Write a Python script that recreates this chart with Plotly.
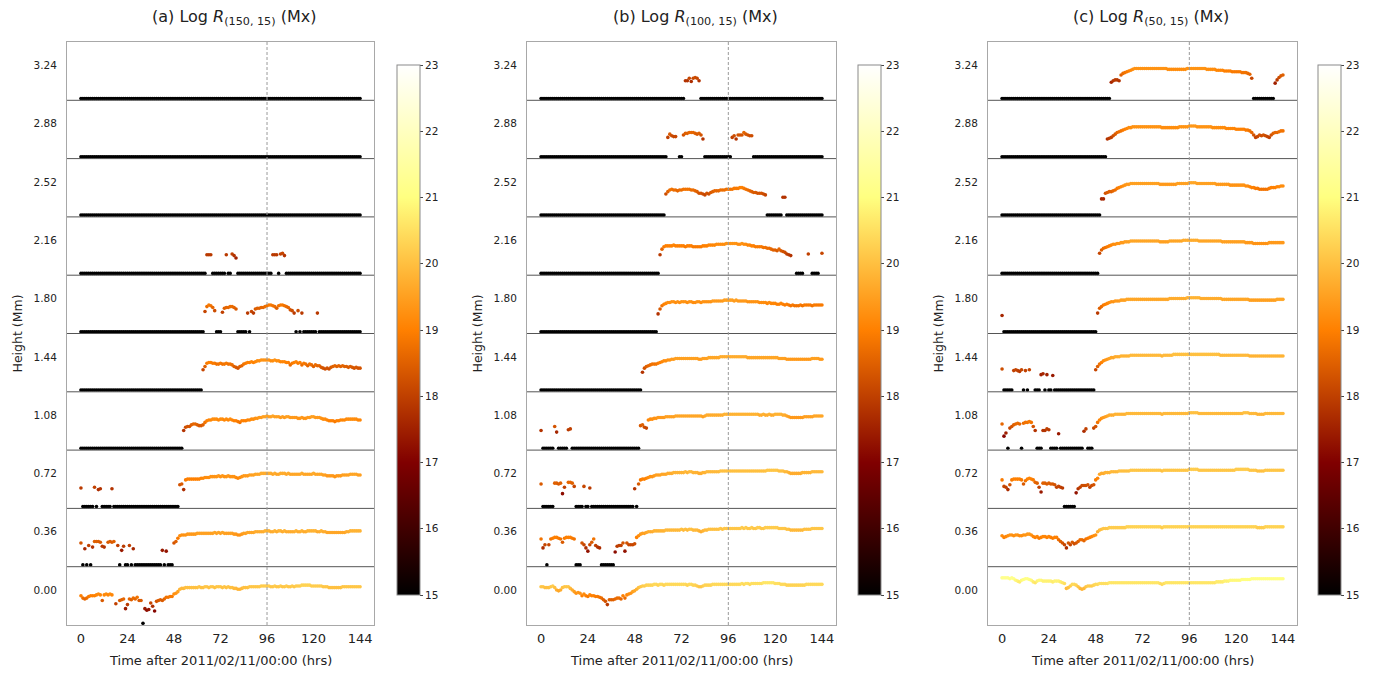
import plotly.graph_objects as go

B = 15.0   # log R at the floor of the colour scale (no measurable flux) -> black marks at band bottom
N = None   # no sample

HOURS = list(range(0, 145))
HEIGHTS = [0.00, 0.36, 0.72, 1.08, 1.44, 1.80, 2.16, 2.52, 2.88, 3.24]
HEIGHT_LABELS = ["0.00", "0.36", "0.72", "1.08", "1.44", "1.80", "2.16", "2.52", "2.88", "3.24"]
TIME_TICKS = [0, 24, 48, 72, 96, 120, 144]
CBAR_TICKS = [15, 16, 17, 18, 19, 20, 21, 22, 23]
TITLES = [
    "(a) Log <i>R</i><sub>(150, 15)</sub> (Mx)",
    "(b) Log <i>R</i><sub>(100, 15)</sub> (Mx)",
    "(c) Log <i>R</i><sub>(50, 15)</sub> (Mx)",
]
XLABEL = "Time after 2011/02/11/00:00 (hrs)"
YLABEL = "Height (Mm)"
REF_TIME = 96

# ---------------- panel (a): Log R(150,15) ----------------
a324 = [
    B, B, B, B, B, B, B, B, B, B, B, B, B, B, B, B, B, B, B, B, B, B, B, B,
    B, B, B, B, B, B, B, B, B, B, B, B, B, B, B, B, B, B, B, B, B, B, B, B,
    B, B, B, B, B, B, B, B, B, B, B, B, B, B, B, B, B, B, B, B, B, B, B, B,
    B, B, B, B, B, B, B, B, B, B, B, B, B, B, B, B, B, B, B, B, B, B, B, B,
    B, B, B, B, B, B, B, B, B, B, B, B, B, B, B, B, B, B, B, B, B, B, B, B,
    B, B, B, B, B, B, B, B, B, B, B, B, B, B, B, B, B, B, B, B, B, B, B, B, B,
]
a288 = [
    B, B, B, B, B, B, B, B, B, B, B, B, B, B, B, B, B, B, B, B, B, B, B, B,
    B, B, B, B, B, B, B, B, B, B, B, B, B, B, B, B, B, B, B, B, B, B, B, B,
    B, B, B, B, B, B, B, B, B, B, B, B, B, B, B, B, B, B, B, B, B, B, B, B,
    B, B, B, B, B, B, B, B, B, B, B, B, B, B, B, B, B, B, B, B, B, B, B, B,
    B, B, B, B, B, B, B, B, B, B, B, B, B, B, B, B, B, B, B, B, B, B, B, B,
    B, B, B, B, B, B, B, B, B, B, B, B, B, B, B, B, B, B, B, B, B, B, B, B, B,
]
a252 = [
    B, B, B, B, B, B, B, B, B, B, B, B, B, B, B, B, B, B, B, B, B, B, B, B,
    B, B, B, B, B, B, B, B, B, B, B, B, B, B, B, B, B, B, B, B, B, B, B, B,
    B, B, B, B, B, B, B, B, B, B, B, B, B, B, B, B, B, B, B, B, B, B, B, B,
    B, B, B, B, B, B, B, B, B, B, B, B, B, B, B, B, B, B, B, B, B, B, B, B,
    B, B, B, B, B, B, B, B, B, B, B, B, B, B, B, B, B, B, B, B, B, B, B, B,
    B, B, B, B, B, B, B, B, B, B, B, B, B, B, B, B, B, B, B, B, B, B, B, B, B,
]
a216 = [
    B, B, B, B, B, B, B, B, B, B, B, B, B, B, B, B, B, B, B, B, B, B, B, B,
    B, B, B, B, B, B, B, B, B, B, B, B, B, B, B, B, B, B, B, B, B, B, B, B,
    B, B, B, B, B, B, B, B, B, B, B, B, B, B, B, B, B, 17.9, 17.9, 17.9, B, B, B, B,
    B, B, B, 17.9, B, B, 18.0, 17.8, 17.5, B, B, B, B, B, B, B, B, B, B, B, B, B, B, B,
    B, B, B, 17.9, 17.9, 17.9, B, 18.0, 18.1, 17.8, B, B, B, B, B, B, B, B, B, B, B, B, B, B,
    B, B, B, B, B, B, B, B, B, B, B, B, B, B, B, B, B, B, B, B, B, B, B, B, B,
]
a180 = [
    B, B, B, B, B, B, B, B, B, B, B, B, B, B, B, B, B, B, B, B, B, B, B, B,
    B, B, B, B, B, B, B, B, B, B, B, B, B, B, B, B, B, B, B, B, B, B, B, B,
    B, B, B, B, B, B, B, B, B, B, B, B, B, B, B, B, 18.1, 18.7, 18.9, 18.8, 18.6, 18.2, B, B,
    B, 18.0, 18.5, 18.6, 18.6, 18.7, 18.7, 18.6, 18.4, B, B, B, B, B, 17.9, B, 18.1, 17.9, 18.4, 18.5, 18.5, 18.6, 18.6, 18.7,
    18.8, 18.9, 18.9, 18.8, 18.7, 18.5, 18.8, 18.9, 18.9, 18.8, 18.7, 18.6, 18.3, 18.2, 17.9, B, 18.2, B, 17.9, B, B, B, B, B,
    B, B, 17.9, B, B, B, B, B, B, B, B, B, B, B, B, B, B, B, B, B, B, B, B, B, B,
]
a144 = [
    B, B, B, B, B, B, B, B, B, B, B, B, B, B, B, B, B, B, B, B, B, B, B, B,
    B, B, B, B, B, B, B, B, B, B, B, B, B, B, B, B, B, B, B, B, B, B, B, B,
    B, B, B, B, B, B, B, B, B, B, B, B, B, B, B, 18.1, 18.5, 18.9, 19.0, 19.0, 18.9, 18.9, 18.8, 18.8,
    18.9, 18.8, 18.8, 18.9, 18.8, 18.8, 18.7, 18.5, 18.4, 18.3, 18.5, 18.6, 18.8, 18.9, 19.0, 19.0, 19.1, 19.0, 19.1, 19.2, 19.2, 19.3, 19.3, 19.3,
    19.3, 19.3, 19.2, 19.2, 19.3, 19.2, 19.2, 19.1, 19.1, 19.1, 19.0, 19.0, 18.7, 18.9, 19.0, 19.1, 18.9, 19.0, 18.7, 18.9, 18.8, 18.6, 18.8, 18.7,
    18.5, 18.7, 18.6, 18.6, 18.4, 18.3, 18.2, 18.3, 18.2, 18.4, 18.5, 18.6, 18.5, 18.6, 18.5, 18.6, 18.5, 18.5, 18.4, 18.5, 18.4, 18.3, 18.4, 18.3, 18.3,
]
a108 = [
    B, B, B, B, B, B, B, B, B, B, B, B, B, B, B, B, B, B, B, B, B, B, B, B,
    B, B, B, B, B, B, B, B, B, B, B, B, B, B, B, B, B, B, B, B, B, B, B, B,
    B, B, B, B, B, 17.8, 18.2, 18.3, 18.3, 18.5, 18.6, 18.6, 18.5, 18.4, 18.4, 18.5, 18.8, 19.0, 19.1, 19.1, 19.2, 19.2, 19.2, 19.1,
    19.2, 19.2, 19.1, 19.2, 19.1, 19.2, 19.1, 19.0, 19.0, 18.9, 18.8, 19.0, 19.0, 19.0, 19.1, 19.1, 19.2, 19.2, 19.3, 19.3, 19.4, 19.4, 19.5, 19.5,
    19.6, 19.5, 19.5, 19.6, 19.5, 19.5, 19.5, 19.4, 19.5, 19.4, 19.5, 19.5, 19.4, 19.4, 19.4, 19.4, 19.3, 19.3, 19.4, 19.3, 19.3, 19.4, 19.4, 19.5,
    19.5, 19.4, 19.4, 19.4, 19.3, 19.2, 19.2, 19.1, 19.0, 19.0, 19.0, 18.9, 19.0, 19.0, 19.1, 19.1, 19.1, 19.2, 19.2, 19.2, 19.2, 19.2, 19.2, 19.1, 19.1,
]
a072 = [
    17.9, B, B, B, B, B, B, 18.0, B, 17.7, 17.8, B, B, B, B, B, 17.8, B, B, B, B, B, B, B,
    B, B, B, B, B, B, B, B, B, B, B, B, B, B, B, B, B, B, B, B, B, B, B, B,
    B, B, B, 18.3, 18.4, 17.7, 18.9, 19.0, 19.0, 19.0, 19.0, 19.0, 19.0, 19.0, 19.1, 19.1, 19.2, 19.2, 19.2, 19.3, 19.3, 19.3, 19.3, 19.4,
    19.3, 19.4, 19.3, 19.3, 19.4, 19.3, 19.3, 19.3, 19.2, 19.1, 19.2, 19.3, 19.4, 19.4, 19.4, 19.5, 19.5, 19.5, 19.6, 19.6, 19.6, 19.7, 19.7, 19.7,
    19.7, 19.7, 19.7, 19.6, 19.7, 19.6, 19.6, 19.7, 19.7, 19.7, 19.6, 19.7, 19.6, 19.6, 19.6, 19.6, 19.6, 19.6, 19.7, 19.6, 19.6, 19.6, 19.6, 19.6,
    19.7, 19.6, 19.6, 19.6, 19.6, 19.5, 19.5, 19.4, 19.4, 19.4, 19.4, 19.3, 19.4, 19.4, 19.4, 19.5, 19.5, 19.5, 19.5, 19.6, 19.6, 19.6, 19.6, 19.5, 19.5,
]
a036 = [
    18.3, B, 17.6, B, 18.0, B, 17.8, 18.5, 18.5, 18.5, 18.4, 17.9, 17.8, N, 18.4, 18.5, 18.4, 18.5, N, 18.0, B, 17.4, 17.9, B,
    B, 18.0, B, 17.6, B, B, B, B, B, B, B, B, B, B, B, B, B, B, 17.4, B, 17.3, B, B, B,
    18.3, 18.5, 18.9, 19.2, 19.3, 19.3, 19.3, 19.4, 19.4, 19.4, 19.4, 19.4, 19.5, 19.5, 19.5, 19.5, 19.5, 19.5, 19.5, 19.5, 19.5, 19.6, 19.5, 19.6,
    19.5, 19.6, 19.5, 19.5, 19.5, 19.5, 19.5, 19.4, 19.4, 19.3, 19.3, 19.4, 19.5, 19.5, 19.6, 19.6, 19.6, 19.6, 19.7, 19.7, 19.7, 19.7, 19.7, 19.8,
    19.8, 19.8, 19.7, 19.7, 19.8, 19.7, 19.8, 19.8, 19.7, 19.8, 19.7, 19.7, 19.7, 19.7, 19.7, 19.8, 19.7, 19.7, 19.8, 19.7, 19.7, 19.8, 19.8, 19.8,
    19.8, 19.8, 19.7, 19.7, 19.8, 19.7, 19.7, 19.6, 19.6, 19.6, 19.6, 19.6, 19.6, 19.6, 19.6, 19.6, 19.6, 19.7, 19.7, 19.8, 19.8, 19.8, 19.8, 19.8, 19.8,
]
a000 = [
    19.0, 18.7, 18.6, 18.7, 18.9, 19.0, 19.0, 19.0, 19.1, 19.2, 19.1, 18.4, 19.1, 19.2, 19.1, 19.2, 19.1, N, 18.0, N, 18.4, 18.5, 18.6, 17.4,
    17.9, 18.6, 18.5, 18.7, 18.6, 18.8, 18.4, 18.4, B, 17.4, 17.2, 17.3, 18.1, 17.7, 17.1, 18.3, 18.4, 18.5, 18.4, 18.6, 18.8, 18.8, 18.9, 18.9,
    19.2, 19.3, 19.5, 19.8, 19.9, 19.9, 20.0, 20.0, 20.0, 20.0, 20.0, 20.0, 20.0, 20.1, 20.0, 20.0, 20.1, 20.1, 20.0, 20.1, 20.1, 20.0, 20.1, 20.1,
    20.1, 20.0, 20.1, 20.0, 20.1, 20.0, 20.0, 19.9, 19.9, 19.8, 19.8, 19.9, 20.0, 20.0, 20.0, 20.1, 20.1, 20.1, 20.1, 20.1, 20.1, 20.2, 20.2, 20.2,
    20.2, 20.2, 20.1, 20.1, 20.2, 20.1, 20.1, 20.2, 20.1, 20.1, 20.2, 20.1, 20.1, 20.2, 20.1, 20.2, 20.2, 20.2, 20.3, 20.3, 20.3, 20.3, 20.3, 20.2,
    20.2, 20.2, 20.2, 20.2, 20.2, 20.1, 20.1, 20.1, 20.0, 20.0, 20.0, 20.0, 20.0, 20.0, 20.0, 20.1, 20.1, 20.1, 20.1, 20.1, 20.1, 20.1, 20.1, 20.1, 20.1,
]

# ---------------- panel (b): Log R(100,15) ----------------
b324 = [
    B, B, B, B, B, B, B, B, B, B, B, B, B, B, B, B, B, B, B, B, B, B, B, B,
    B, B, B, B, B, B, B, B, B, B, B, B, B, B, B, B, B, B, B, B, B, B, B, B,
    B, B, B, B, B, B, B, B, B, B, B, B, B, B, B, B, B, B, B, B, B, B, B, B,
    B, B, 17.8, 17.8, 18.1, 17.7, 18.1, 18.2, 18.1, 17.8, B, B, B, B, B, B, B, B, B, B, B, B, B, B,
    B, B, B, B, B, B, B, B, B, B, B, B, B, B, B, B, B, B, B, B, B, B, B, B,
    B, B, B, B, B, B, B, B, B, B, B, B, B, B, B, B, B, B, B, B, B, B, B, B, B,
]
b288 = [
    B, B, B, B, B, B, B, B, B, B, B, B, B, B, B, B, B, B, B, B, B, B, B, B,
    B, B, B, B, B, B, B, B, B, B, B, B, B, B, B, B, B, B, B, B, B, B, B, B,
    B, B, B, B, B, B, B, B, B, B, B, B, B, B, B, B, B, 18.0, 18.4, 18.2, 18.1, 18.1, N, B,
    B, 18.3, 18.5, 18.5, 18.6, 18.6, 18.6, 18.5, 18.4, 18.5, 18.3, 17.8, B, B, B, B, B, B, B, B, B, B, B, B,
    B, B, 18.0, 18.2, 17.8, 18.3, 18.3, 18.3, 18.6, 18.4, 18.3, 18.2, 18.2, B, B, B, B, B, B, B, B, B, B, B,
    B, B, B, B, B, B, B, B, B, B, B, B, B, B, B, B, B, B, B, B, B, B, B, B, B,
]
b252 = [
    B, B, B, B, B, B, B, B, B, B, B, B, B, B, B, B, B, B, B, B, B, B, B, B,
    B, B, B, B, B, B, B, B, B, B, B, B, B, B, B, B, B, B, B, B, B, B, B, B,
    B, B, B, B, B, B, B, B, B, B, B, B, B, B, B, B, 18.2, 18.5, 18.7, 18.8, 18.7, 18.7, 18.6, 18.7,
    18.7, 18.8, 18.8, 18.8, 18.8, 18.7, 18.7, 18.6, 18.5, 18.3, 18.3, 18.2, 18.1, 18.3, 18.2, 18.4, 18.5, 18.6, 18.6, 18.6, 18.7, 18.7, 18.7, 18.8,
    18.8, 18.8, 18.8, 18.9, 18.9, 18.9, 19.0, 19.0, 18.9, 18.8, 18.7, 18.6, 18.5, 18.4, 18.4, 18.3, 18.3, 18.3, 18.2, 18.1, B, B, B, B,
    B, B, B, B, 17.8, 17.8, B, B, B, B, B, B, B, B, B, B, B, B, B, B, B, B, B, B, B,
]
b216 = [
    B, B, B, B, B, B, B, B, B, B, B, B, B, B, B, B, B, B, B, B, B, B, B, B,
    B, B, B, B, B, B, B, B, B, B, B, B, B, B, B, B, B, B, B, B, B, B, B, B,
    B, B, B, B, B, B, B, B, B, B, B, B, B, 17.9, 18.6, 18.9, 19.0, 19.0, 19.0, 19.0, 19.1, 19.0, 19.0, 19.0,
    19.0, 19.0, 18.9, 19.0, 19.0, 19.0, 18.9, 18.9, 18.9, 18.9, 18.9, 19.0, 19.0, 19.0, 19.1, 19.1, 19.1, 19.1, 19.2, 19.2, 19.2, 19.2, 19.2, 19.3,
    19.3, 19.3, 19.3, 19.3, 19.3, 19.2, 19.2, 19.3, 19.2, 19.2, 19.1, 19.1, 19.0, 19.0, 18.9, 18.9, 18.9, 18.9, 18.8, 18.8, 18.7, 18.7, 18.6, 18.5,
    18.5, 18.4, 18.6, 18.4, 18.3, 18.2, 18.0, 17.9, 17.8, N, N, B, B, B, B, N, N, 18.0, N, B, B, B, B, N, 18.1,
]
b180 = [
    B, B, B, B, B, B, B, B, B, B, B, B, B, B, B, B, B, B, B, B, B, B, B, B,
    B, B, B, B, B, B, B, B, B, B, B, B, B, B, B, B, B, B, B, B, B, B, B, B,
    B, B, B, B, B, B, B, B, B, B, B, B, 17.8, 18.4, 18.8, 19.0, 19.1, 19.2, 19.2, 19.3, 19.3, 19.2, 19.3, 19.2,
    19.3, 19.3, 19.3, 19.2, 19.3, 19.3, 19.2, 19.2, 19.3, 19.3, 19.2, 19.3, 19.3, 19.3, 19.3, 19.3, 19.4, 19.4, 19.4, 19.4, 19.4, 19.4, 19.5, 19.5,
    19.5, 19.5, 19.5, 19.4, 19.5, 19.4, 19.4, 19.4, 19.4, 19.4, 19.3, 19.3, 19.3, 19.3, 19.3, 19.3, 19.2, 19.2, 19.2, 19.2, 19.1, 19.2, 19.1, 19.1,
    19.1, 19.0, 19.0, 19.1, 19.0, 18.9, 19.0, 18.9, 18.8, 18.9, 18.8, 18.8, 18.8, 18.9, 18.8, 18.9, 18.9, 18.9, 18.9, 18.8, 18.9, 18.9, 18.9, 18.9, 18.9,
]
b144 = [
    B, B, B, B, B, B, B, B, B, B, B, B, B, B, B, B, B, B, B, B, B, B, B, B,
    B, B, B, B, B, B, B, B, B, B, B, B, B, B, B, B, B, B, B, B, B, B, B, B,
    B, B, B, B, 17.8, 18.3, 18.5, 18.6, 18.7, 18.8, 18.8, 18.8, 18.9, 19.0, 19.1, 19.2, 19.2, 19.3, 19.3, 19.4, 19.4, 19.5, 19.5, 19.5,
    19.5, 19.5, 19.5, 19.5, 19.5, 19.5, 19.5, 19.5, 19.5, 19.4, 19.4, 19.5, 19.5, 19.5, 19.6, 19.6, 19.6, 19.6, 19.6, 19.6, 19.7, 19.7, 19.7, 19.7,
    19.7, 19.7, 19.7, 19.7, 19.7, 19.7, 19.7, 19.7, 19.7, 19.7, 19.6, 19.6, 19.6, 19.6, 19.6, 19.6, 19.6, 19.6, 19.6, 19.6, 19.6, 19.6, 19.6, 19.6,
    19.6, 19.6, 19.5, 19.5, 19.5, 19.5, 19.4, 19.4, 19.4, 19.4, 19.4, 19.4, 19.4, 19.4, 19.4, 19.4, 19.4, 19.4, 19.4, 19.5, 19.5, 19.5, 19.5, 19.4, 19.4,
]
b108 = [
    17.8, B, B, B, B, B, B, 18.3, 17.6, B, B, B, B, B, 17.9, 18.0, B, B, B, B, B, B, B, B,
    B, B, B, B, B, B, B, B, B, B, B, B, B, B, B, B, B, B, B, B, B, B, B, B,
    B, B, B, 18.4, 18.5, 18.2, 18.1, 19.1, 19.2, 19.2, 19.3, 19.3, 19.4, 19.4, 19.4, 19.4, 19.5, 19.5, 19.5, 19.5, 19.5, 19.6, 19.6, 19.6,
    19.6, 19.6, 19.6, 19.6, 19.6, 19.6, 19.6, 19.6, 19.6, 19.6, 19.6, 19.5, 19.6, 19.7, 19.7, 19.7, 19.7, 19.7, 19.7, 19.7, 19.7, 19.7, 19.8, 19.8,
    19.8, 19.8, 19.8, 19.8, 19.8, 19.8, 19.8, 19.8, 19.8, 19.8, 19.8, 19.8, 19.8, 19.8, 19.8, 19.8, 19.7, 19.7, 19.8, 19.7, 19.7, 19.8, 19.7, 19.7,
    19.8, 19.8, 19.8, 19.8, 19.7, 19.7, 19.6, 19.5, 19.4, 19.4, 19.4, 19.4, 19.4, 19.4, 19.4, 19.5, 19.5, 19.5, 19.5, 19.5, 19.6, 19.6, 19.6, 19.6, 19.6,
]
b072 = [
    18.4, B, B, B, B, B, B, 18.5, 18.5, 18.4, 18.5, 17.2, 18.0, N, 18.6, 18.6, 18.5, 18.1, B, B, B, B, 18.1, B,
    B, 17.9, B, B, B, B, B, B, B, B, B, B, B, B, B, B, B, B, B, B, B, B, B, B,
    17.8, B, 18.4, 18.9, 19.0, 19.0, 19.1, 19.2, 19.3, 19.3, 19.4, 19.5, 19.5, 19.5, 19.6, 19.6, 19.6, 19.7, 19.7, 19.7, 19.8, 19.8, 19.8, 19.8,
    19.8, 19.8, 19.9, 19.8, 19.9, 19.9, 19.8, 19.8, 19.8, 19.7, 19.7, 19.8, 19.8, 19.9, 19.9, 19.9, 19.9, 19.9, 19.9, 19.9, 20.0, 20.0, 20.0, 20.0,
    20.0, 20.0, 20.0, 20.0, 20.0, 20.0, 20.0, 20.0, 20.0, 20.0, 20.0, 20.0, 20.0, 20.0, 20.0, 20.0, 20.0, 20.0, 20.0, 20.0, 20.1, 20.1, 20.1, 20.1,
    20.1, 20.1, 20.0, 20.0, 20.0, 19.9, 19.9, 19.8, 19.7, 19.7, 19.7, 19.7, 19.7, 19.7, 19.8, 19.8, 19.8, 19.8, 19.8, 19.9, 19.9, 19.9, 19.9, 19.9, 19.9,
]
b036 = [
    18.8, 17.7, 18.1, B, 18.1, 18.8, 18.9, 19.0, 19.0, 18.9, 18.8, 18.4, 18.9, 19.0, 19.0, 19.0, 18.9, 18.8, B, B, B, 18.3, 18.1, 17.7,
    17.3, 18.1, 18.4, 18.8, 18.0, 17.8, 17.7, B, B, B, B, B, B, B, 17.2, 17.9, 18.0, 18.0, 18.3, 17.3, 18.3, 18.1, 18.1, 18.1,
    18.2, 19.0, 19.2, 19.4, 19.5, 19.5, 19.6, 19.7, 19.7, 19.7, 19.8, 19.8, 19.8, 19.8, 19.8, 19.8, 19.9, 19.9, 19.9, 19.9, 19.9, 19.9, 19.9, 19.9,
    20.0, 19.9, 20.0, 19.9, 20.0, 20.0, 19.9, 19.9, 19.9, 19.8, 19.7, 19.8, 19.9, 19.9, 20.0, 20.0, 20.0, 20.0, 20.0, 20.0, 20.1, 20.0, 20.1, 20.1,
    20.1, 20.1, 20.1, 20.1, 20.1, 20.1, 20.1, 20.2, 20.1, 20.2, 20.1, 20.1, 20.2, 20.1, 20.1, 20.2, 20.2, 20.1, 20.1, 20.2, 20.2, 20.2, 20.2, 20.2,
    20.2, 20.2, 20.1, 20.1, 20.1, 20.1, 20.0, 20.0, 19.9, 19.9, 19.9, 19.9, 19.9, 19.9, 19.9, 20.0, 20.0, 20.0, 20.0, 20.1, 20.1, 20.1, 20.1, 20.1, 20.1,
]
b000 = [
    20.1, 20.1, 20.0, 20.0, 20.0, 20.1, 20.2, 20.0, 19.7, 19.6, 19.7, 20.0, 20.1, 20.1, 20.1, 19.9, 19.7, 19.5, 19.3, 19.4, 19.3, 19.0, 19.2, 19.0,
    18.9, 19.1, 19.0, 19.0, 18.9, 18.9, 18.8, 18.7, 18.5, 18.3, 17.9, 18.5, 18.5, 18.5, 18.6, 18.7, 18.7, 18.6, 19.0, 18.7, 19.1, 19.2, 19.3, 19.5,
    19.6, 19.8, 20.0, 20.1, 20.2, 20.2, 20.3, 20.3, 20.3, 20.3, 20.4, 20.4, 20.3, 20.4, 20.4, 20.3, 20.4, 20.4, 20.4, 20.4, 20.4, 20.4, 20.4, 20.4,
    20.4, 20.4, 20.4, 20.3, 20.4, 20.4, 20.3, 20.3, 20.2, 20.1, 20.1, 20.2, 20.3, 20.3, 20.3, 20.3, 20.4, 20.4, 20.4, 20.4, 20.4, 20.4, 20.4, 20.4,
    20.4, 20.4, 20.4, 20.4, 20.4, 20.4, 20.4, 20.5, 20.4, 20.5, 20.5, 20.4, 20.5, 20.5, 20.5, 20.5, 20.5, 20.5, 20.6, 20.6, 20.6, 20.6, 20.6, 20.6,
    20.5, 20.5, 20.5, 20.4, 20.4, 20.4, 20.3, 20.3, 20.3, 20.3, 20.3, 20.3, 20.3, 20.3, 20.3, 20.3, 20.4, 20.4, 20.4, 20.4, 20.4, 20.4, 20.4, 20.4, 20.4,
]

# ---------------- panel (c): Log R(50,15) ----------------
c324 = [
    B, B, B, B, B, B, B, B, B, B, B, B, B, B, B, B, B, B, B, B, B, B, B, B,
    B, B, B, B, B, B, B, B, B, B, B, B, B, B, B, B, B, B, B, B, B, B, B, B,
    B, B, B, B, B, B, B, B, 17.6, 17.8, 17.9, 17.9, 17.8, 18.5, 18.7, 18.8, 18.9, 19.0, 19.1, 19.2, 19.3, 19.3, 19.3, 19.3,
    19.3, 19.3, 19.3, 19.3, 19.3, 19.3, 19.3, 19.3, 19.3, 19.3, 19.3, 19.3, 19.3, 19.2, 19.2, 19.2, 19.2, 19.2, 19.2, 19.2, 19.2, 19.2, 19.2, 19.3,
    19.3, 19.3, 19.3, 19.3, 19.3, 19.3, 19.3, 19.3, 19.3, 19.2, 19.2, 19.2, 19.2, 19.2, 19.1, 19.1, 19.1, 19.1, 19.0, 19.0, 19.0, 19.0, 18.9, 18.9,
    18.9, 18.9, 18.9, 18.8, 18.8, 18.8, 18.7, 18.6, 18.1, B, B, B, B, B, B, B, B, B, B, B, 17.5, 17.9, 18.2, 18.4, 18.5,
]
c288 = [
    B, B, B, B, B, B, B, B, B, B, B, B, B, B, B, B, B, B, B, B, B, B, B, B,
    B, B, B, B, B, B, B, B, B, B, B, B, B, B, B, B, B, B, B, B, B, B, B, B,
    B, B, B, B, B, B, 17.8, 17.9, 18.0, 18.2, 18.4, 18.6, 18.7, 18.8, 18.9, 19.0, 19.1, 19.2, 19.2, 19.3, 19.3, 19.3, 19.3, 19.3,
    19.3, 19.3, 19.3, 19.3, 19.3, 19.3, 19.3, 19.3, 19.3, 19.3, 19.2, 19.2, 19.2, 19.2, 19.2, 19.2, 19.2, 19.2, 19.2, 19.3, 19.3, 19.3, 19.3, 19.3,
    19.4, 19.4, 19.4, 19.4, 19.3, 19.3, 19.3, 19.3, 19.3, 19.3, 19.3, 19.3, 19.2, 19.2, 19.2, 19.2, 19.2, 19.2, 19.2, 19.1, 19.1, 19.1, 19.1, 19.1,
    19.0, 19.0, 19.0, 19.0, 19.0, 18.9, 18.9, 18.8, 18.6, 18.3, 18.0, 18.1, 18.3, 18.2, 18.3, 18.2, 18.1, 18.0, 18.3, 18.5, 18.6, 18.6, 18.7, 18.8, 18.8,
]
c252 = [
    B, B, B, B, B, B, B, B, B, B, B, B, B, B, B, B, B, B, B, B, B, B, B, B,
    B, B, B, B, B, B, B, B, B, B, B, B, B, B, B, B, B, B, B, B, B, B, B, B,
    B, B, B, 17.6, 17.6, 18.3, 18.4, 18.5, 18.5, 18.6, 18.7, 18.9, 19.0, 19.1, 19.2, 19.3, 19.4, 19.4, 19.5, 19.5, 19.5, 19.5, 19.5, 19.5,
    19.5, 19.5, 19.5, 19.5, 19.5, 19.5, 19.5, 19.5, 19.5, 19.4, 19.4, 19.4, 19.4, 19.4, 19.4, 19.4, 19.4, 19.4, 19.5, 19.5, 19.5, 19.5, 19.5, 19.5,
    19.6, 19.6, 19.6, 19.6, 19.5, 19.5, 19.5, 19.5, 19.5, 19.5, 19.5, 19.5, 19.5, 19.5, 19.4, 19.4, 19.4, 19.4, 19.4, 19.4, 19.4, 19.3, 19.3, 19.3,
    19.3, 19.3, 19.3, 19.3, 19.3, 19.2, 19.2, 19.1, 19.0, 19.0, 18.9, 18.9, 18.8, 18.8, 18.8, 18.8, 18.8, 18.9, 19.0, 19.0, 19.0, 19.1, 19.1, 19.2, 19.2,
]
c216 = [
    B, B, B, B, B, B, B, B, B, B, B, B, B, B, B, B, B, B, B, B, B, B, B, B,
    B, B, B, B, B, B, B, B, B, B, B, B, B, B, B, B, B, B, B, B, B, B, B, B,
    B, B, 18.1, 18.5, 18.7, 18.8, 18.9, 19.0, 19.1, 19.2, 19.2, 19.3, 19.3, 19.4, 19.4, 19.5, 19.5, 19.5, 19.6, 19.6, 19.6, 19.6, 19.6, 19.6,
    19.6, 19.6, 19.6, 19.6, 19.6, 19.6, 19.6, 19.6, 19.6, 19.5, 19.5, 19.5, 19.5, 19.5, 19.6, 19.6, 19.6, 19.6, 19.6, 19.6, 19.6, 19.7, 19.7, 19.7,
    19.7, 19.7, 19.7, 19.7, 19.7, 19.6, 19.6, 19.6, 19.6, 19.6, 19.6, 19.6, 19.6, 19.6, 19.6, 19.6, 19.6, 19.5, 19.5, 19.5, 19.5, 19.5, 19.5, 19.5,
    19.5, 19.5, 19.5, 19.5, 19.5, 19.4, 19.4, 19.4, 19.4, 19.3, 19.3, 19.3, 19.3, 19.3, 19.3, 19.3, 19.3, 19.4, 19.4, 19.4, 19.4, 19.4, 19.4, 19.4, 19.4,
]
c180 = [
    17.6, B, B, B, B, B, B, B, B, B, B, B, B, B, B, B, B, B, B, B, B, B, B, B,
    B, B, B, B, B, B, B, B, B, B, B, B, B, B, B, B, B, B, B, B, B, B, B, B,
    B, 17.9, 18.5, 18.7, 18.9, 19.0, 19.1, 19.2, 19.3, 19.3, 19.4, 19.4, 19.4, 19.5, 19.5, 19.5, 19.6, 19.6, 19.6, 19.6, 19.6, 19.6, 19.6, 19.6,
    19.6, 19.6, 19.6, 19.6, 19.6, 19.6, 19.6, 19.6, 19.6, 19.6, 19.6, 19.6, 19.6, 19.6, 19.7, 19.7, 19.7, 19.7, 19.7, 19.7, 19.7, 19.7, 19.7, 19.8,
    19.8, 19.8, 19.8, 19.8, 19.8, 19.8, 19.7, 19.7, 19.7, 19.7, 19.7, 19.7, 19.7, 19.7, 19.7, 19.7, 19.7, 19.6, 19.6, 19.6, 19.6, 19.6, 19.6, 19.6,
    19.6, 19.6, 19.6, 19.6, 19.6, 19.6, 19.6, 19.5, 19.5, 19.5, 19.5, 19.5, 19.5, 19.5, 19.5, 19.5, 19.5, 19.5, 19.5, 19.5, 19.5, 19.6, 19.6, 19.6, 19.6,
]
c144 = [
    18.2, B, B, B, B, B, 18.0, 18.1, 18.0, 17.9, 18.1, B, 18.0, B, 18.1, N, N, B, B, B, 17.5, 17.6, B, 17.5,
    B, B, 17.4, B, B, B, B, B, B, B, B, B, B, B, B, B, B, B, B, B, B, B, B, B,
    18.1, 18.5, 18.8, 19.0, 19.2, 19.3, 19.4, 19.5, 19.6, 19.6, 19.7, 19.7, 19.7, 19.8, 19.8, 19.8, 19.8, 19.8, 19.9, 19.9, 19.9, 19.9, 19.9, 19.9,
    19.9, 19.9, 19.9, 19.9, 19.9, 19.9, 19.9, 19.9, 19.9, 19.9, 19.8, 19.9, 19.9, 19.9, 19.9, 19.9, 20.0, 20.0, 20.0, 20.0, 20.0, 20.0, 20.0, 20.0,
    20.0, 20.0, 20.0, 20.0, 20.0, 20.0, 20.0, 20.0, 20.0, 20.0, 20.0, 20.0, 20.0, 20.0, 20.0, 20.0, 19.9, 19.9, 19.9, 19.9, 19.9, 19.9, 19.9, 19.9,
    19.9, 19.9, 19.9, 19.9, 19.9, 19.9, 19.9, 19.8, 19.8, 19.8, 19.8, 19.8, 19.8, 19.8, 19.8, 19.8, 19.8, 19.8, 19.8, 19.8, 19.8, 19.8, 19.8, 19.8, 19.8,
]
c108 = [
    18.6, 17.1, 17.5, B, 18.1, 18.3, 18.5, 18.6, 18.7, 18.6, B, 18.7, 18.8, 18.8, 18.9, 18.8, 18.3, 17.8, B, B, B, 17.8, 17.8, 18.0,
    17.9, B, B, B, B, 17.4, B, B, B, B, B, B, B, B, B, B, B, B, 17.7, 18.0, B, B, B, 18.1,
    18.3, 18.8, 19.1, 19.3, 19.4, 19.5, 19.6, 19.7, 19.7, 19.7, 19.8, 19.8, 19.8, 19.8, 19.8, 19.8, 19.9, 19.9, 19.9, 19.9, 19.9, 19.9, 19.9, 19.9,
    19.9, 19.9, 19.9, 19.9, 19.9, 19.9, 19.9, 19.9, 19.9, 19.9, 19.8, 19.9, 19.9, 19.9, 19.9, 19.9, 19.9, 19.9, 19.9, 19.9, 19.9, 19.9, 19.9, 19.9,
    20.0, 20.0, 20.0, 20.0, 20.0, 19.9, 19.9, 19.9, 19.9, 19.9, 19.9, 19.9, 19.9, 19.9, 19.9, 19.9, 19.9, 19.9, 19.9, 19.9, 19.9, 19.9, 19.9, 19.9,
    19.9, 19.9, 19.9, 19.9, 20.0, 20.0, 20.0, 19.9, 19.9, 19.9, 19.9, 19.8, 19.8, 19.8, 19.8, 19.9, 19.9, 19.9, 19.9, 19.9, 19.9, 19.9, 19.9, 19.9, 19.9,
]
c072 = [
    18.9, 18.1, 18.0, 17.7, 18.3, 18.9, 19.0, 19.0, 19.0, 19.0, 18.9, 18.4, 18.8, 19.0, 19.1, 19.0, 18.9, 18.6, 18.5, 18.0, 17.4, 18.5, 18.5, 18.4,
    18.5, 18.4, 18.4, 18.3, 18.0, 18.1, 18.0, 17.9, B, B, B, B, B, B, 17.3, 17.8, 18.0, 18.2, 18.2, 18.2, 18.3, 18.0, 18.2, 18.3,
    18.9, 19.1, 19.6, 19.7, 19.7, 19.8, 19.8, 19.8, 19.9, 19.9, 19.9, 19.9, 20.0, 20.0, 20.0, 20.0, 20.0, 20.0, 20.1, 20.1, 20.1, 20.1, 20.1, 20.1,
    20.1, 20.1, 20.1, 20.1, 20.1, 20.1, 20.1, 20.1, 20.1, 20.1, 20.0, 20.1, 20.1, 20.1, 20.1, 20.1, 20.1, 20.1, 20.1, 20.1, 20.1, 20.1, 20.1, 20.1,
    20.2, 20.2, 20.2, 20.2, 20.2, 20.1, 20.1, 20.1, 20.1, 20.1, 20.1, 20.1, 20.1, 20.1, 20.1, 20.1, 20.1, 20.1, 20.1, 20.1, 20.1, 20.1, 20.1, 20.1,
    20.2, 20.2, 20.2, 20.2, 20.2, 20.2, 20.2, 20.1, 20.1, 20.1, 20.1, 20.0, 20.0, 20.0, 20.0, 20.1, 20.1, 20.1, 20.1, 20.1, 20.1, 20.1, 20.1, 20.1, 20.1,
]
c036 = [
    19.2, 19.0, 19.1, 19.2, 19.3, 19.3, 19.2, 19.3, 19.3, 19.2, 19.2, 19.3, 19.3, 19.4, 19.4, 19.3, 19.1, 19.0, 19.1, 18.9, 19.0, 19.1, 19.1, 19.0,
    19.1, 19.0, 18.9, 19.0, 19.0, 18.7, 18.5, 18.3, 18.1, 17.7, 18.3, 18.1, 18.4, 18.2, 18.3, 18.5, 18.7, 18.7, 18.6, 18.8, 18.9, 19.0, 19.1, 19.2,
    19.3, 19.7, 19.9, 20.0, 20.1, 20.1, 20.1, 20.2, 20.2, 20.2, 20.2, 20.2, 20.2, 20.2, 20.2, 20.2, 20.3, 20.3, 20.3, 20.3, 20.3, 20.3, 20.3, 20.3,
    20.3, 20.3, 20.3, 20.3, 20.3, 20.3, 20.3, 20.3, 20.3, 20.3, 20.2, 20.3, 20.3, 20.3, 20.3, 20.3, 20.3, 20.3, 20.3, 20.3, 20.3, 20.3, 20.3, 20.3,
    20.3, 20.3, 20.3, 20.3, 20.3, 20.3, 20.3, 20.3, 20.3, 20.3, 20.3, 20.3, 20.3, 20.3, 20.3, 20.3, 20.3, 20.3, 20.3, 20.3, 20.3, 20.3, 20.3, 20.3,
    20.3, 20.3, 20.3, 20.3, 20.3, 20.3, 20.3, 20.3, 20.3, 20.3, 20.3, 20.2, 20.2, 20.2, 20.2, 20.3, 20.3, 20.3, 20.3, 20.3, 20.3, 20.3, 20.3, 20.3, 20.3,
]
c000 = [
    21.2, 21.2, 21.2, 21.2, 21.1, 21.2, 21.1, 20.9, 20.8, 20.7, 20.9, 21.0, 21.1, 21.1, 21.0, 20.9, 20.7, 20.6, 20.8, 20.9, 20.9, 20.8, 20.8, 20.8,
    20.8, 20.8, 20.7, 20.8, 20.8, 20.8, 20.7, 20.6, 20.5, 19.9, 20.0, 20.2, 20.4, 20.4, 20.3, 20.1, 19.9, 19.8, 19.9, 20.1, 20.2, 20.2, 20.2, 20.3,
    20.4, 20.4, 20.5, 20.5, 20.5, 20.5, 20.5, 20.6, 20.6, 20.6, 20.6, 20.6, 20.6, 20.6, 20.6, 20.6, 20.6, 20.6, 20.6, 20.6, 20.6, 20.6, 20.6, 20.6,
    20.6, 20.6, 20.6, 20.6, 20.6, 20.6, 20.6, 20.6, 20.6, 20.5, 20.4, 20.5, 20.6, 20.6, 20.6, 20.6, 20.6, 20.6, 20.6, 20.6, 20.6, 20.6, 20.6, 20.6,
    20.6, 20.6, 20.6, 20.6, 20.6, 20.6, 20.6, 20.6, 20.6, 20.6, 20.6, 20.6, 20.6, 20.6, 20.7, 20.7, 20.7, 20.7, 20.8, 20.8, 20.8, 20.9, 20.9, 20.9,
    20.9, 20.9, 20.9, 21.0, 21.0, 21.0, 21.0, 21.0, 21.1, 21.1, 21.1, 21.1, 21.1, 21.1, 21.1, 21.1, 21.1, 21.1, 21.1, 21.1, 21.1, 21.1, 21.1, 21.1, 21.1,
]

PANEL_A = [a000, a036, a072, a108, a144, a180, a216, a252, a288, a324]
PANEL_B = [b000, b036, b072, b108, b144, b180, b216, b252, b288, b324]
PANEL_C = [c000, c036, c072, c108, c144, c180, c216, c252, c288, c324]
PANELS = [PANEL_A, PANEL_B, PANEL_C]

bad = []
for pi, rows in enumerate(PANELS):
    for ri, r in enumerate(rows):
        if len(r) != len(HOURS):
            bad.append(f"panel {'abc'[pi]} row {HEIGHT_LABELS[ri]}: {len(r)}")
if bad:
    raise ValueError("length mismatch: " + "; ".join(bad))

# ---------------- styling / geometry ----------------
# The page body has an 8 px margin, so the figure is made 8 px smaller and every
# target window-pixel position is converted relative to the figure's own origin.
WIN_W, WIN_H = 1375, 673
OFF = 8
W, H = WIN_W - OFF, WIN_H - OFF
FONT = "DejaVu Sans"
TXT = "#222222"
AX_PX = [(67, 374), (527, 836), (988, 1297)]
AX_TOP, AX_BOT = 42, 625
CB_LEFT = [397, 858, 1318]
CB_TOP, CB_BOT = 65, 595
TITLE_X = [234, 695, 1151]
TITLE_Y = 17
XLAB_Y = 660
YLAB_X = [17, 477, 938]
Y_RANGE = [-0.216, 3.384]
X_RANGE = [-7.2, 151.2]
SEP_OFFSET = 0.144          # band boundary above each height level
V_REF, V_FLOOR, V_SCALE = 19.7, 15.6, 0.05   # position of a value inside its band

AFMHOT = [[0.0, "rgb(0,0,0)"], [0.25, "rgb(128,0,0)"], [0.5, "rgb(255,128,0)"],
          [0.75, "rgb(255,255,128)"], [1.0, "rgb(255,255,255)"]]


def px_x(px):
    return (px - OFF) / W


def px_y(py):
    return 1 - (py - OFF) / H


def band_y(h, v):
    return h + V_SCALE * (max(v, V_FLOOR) - V_REF)


fig = go.Figure()
layout = dict(
    width=W, height=H, margin=dict(l=0, r=0, t=0, b=0),
    paper_bgcolor="white", plot_bgcolor="white", showlegend=False,
    font=dict(family=FONT, color=TXT),
)
shapes, annotations = [], []
ydom = [px_y(AX_BOT), px_y(AX_TOP)]

for pi, rows in enumerate(PANELS):
    n = pi + 1
    sfx = "" if n == 1 else str(n)
    xs, ys, cs = [], [], []
    for h, row in zip(HEIGHTS, rows):
        for t, v in zip(HOURS, row):
            if v is None:
                continue
            xs.append(t)
            ys.append(band_y(h, v))
            cs.append(v)
    fig.add_trace(go.Scatter(
        x=xs, y=ys, mode="markers", xaxis="x" + sfx, yaxis="y" + sfx,
        marker=dict(size=3.6, color=cs, coloraxis="coloraxis" + sfx, line=dict(width=0)),
        hoverinfo="skip",
    ))
    x0, x1 = AX_PX[pi]
    layout["xaxis" + sfx] = dict(
        domain=[px_x(x0), px_x(x1)], range=X_RANGE, anchor="y" + sfx,
        tickvals=TIME_TICKS, ticks="outside", ticklen=1, tickcolor="rgba(0,0,0,0)",
        tickfont=dict(size=13, family=FONT, color=TXT),
        showgrid=False, zeroline=False, showline=True, mirror=True,
        linecolor="#a8a8a8", linewidth=1,
    )
    layout["yaxis" + sfx] = dict(
        domain=ydom, range=Y_RANGE, anchor="x" + sfx,
        tickvals=HEIGHTS, ticktext=HEIGHT_LABELS, ticks="outside", ticklen=7,
        tickcolor="rgba(0,0,0,0)", tickfont=dict(size=10.5, family=FONT, color=TXT),
        showgrid=False, zeroline=False, showline=True, mirror=True,
        linecolor="#a8a8a8", linewidth=1,
    )
    layout["coloraxis" + sfx] = dict(
        colorscale=AFMHOT, cmin=15, cmax=23,
        colorbar=dict(
            x=px_x(CB_LEFT[pi]), xanchor="left", y=px_y((CB_TOP + CB_BOT) / 2), yanchor="middle",
            len=(CB_BOT - CB_TOP) / H, lenmode="fraction", thickness=23, thicknessmode="pixels",
            xpad=0, ypad=0, outlinewidth=1, outlinecolor="#8a8a8a",
            tickvals=CBAR_TICKS, ticks="outside", ticklen=3, tickwidth=1, tickcolor="#444",
            tickfont=dict(size=10.5, family=FONT, color=TXT),
        ),
    )
    for h in HEIGHTS[:-1]:
        shapes.append(dict(type="line", xref=f"x{sfx} domain", yref="y" + sfx,
                           x0=0, x1=1, y0=h + SEP_OFFSET, y1=h + SEP_OFFSET,
                           line=dict(color="#555555", width=1)))
    shapes.append(dict(type="line", xref="x" + sfx, yref=f"y{sfx} domain",
                       x0=REF_TIME, x1=REF_TIME, y0=0, y1=1,
                       line=dict(color="#9a9a9a", width=1, dash="3px,2px")))
    annotations.append(dict(text=TITLES[pi], xref="paper", yref="paper",
                            x=px_x(TITLE_X[pi]), y=px_y(TITLE_Y), xanchor="center", yanchor="middle",
                            showarrow=False, font=dict(size=16, family=FONT, color=TXT)))
    annotations.append(dict(text=XLABEL, xref="paper", yref="paper",
                            x=px_x((x0 + x1) / 2), y=px_y(XLAB_Y), xanchor="center", yanchor="middle",
                            showarrow=False, font=dict(size=13, family=FONT, color=TXT)))
    annotations.append(dict(text=YLABEL, xref="paper", yref="paper", textangle=-90,
                            x=px_x(YLAB_X[pi]), y=px_y((AX_TOP + AX_BOT) / 2),
                            xanchor="center", yanchor="middle",
                            showarrow=False, font=dict(size=12.5, family=FONT, color=TXT)))

layout["shapes"] = shapes
layout["annotations"] = annotations
fig.update_layout(**layout)
fig.write_html("out.html")
